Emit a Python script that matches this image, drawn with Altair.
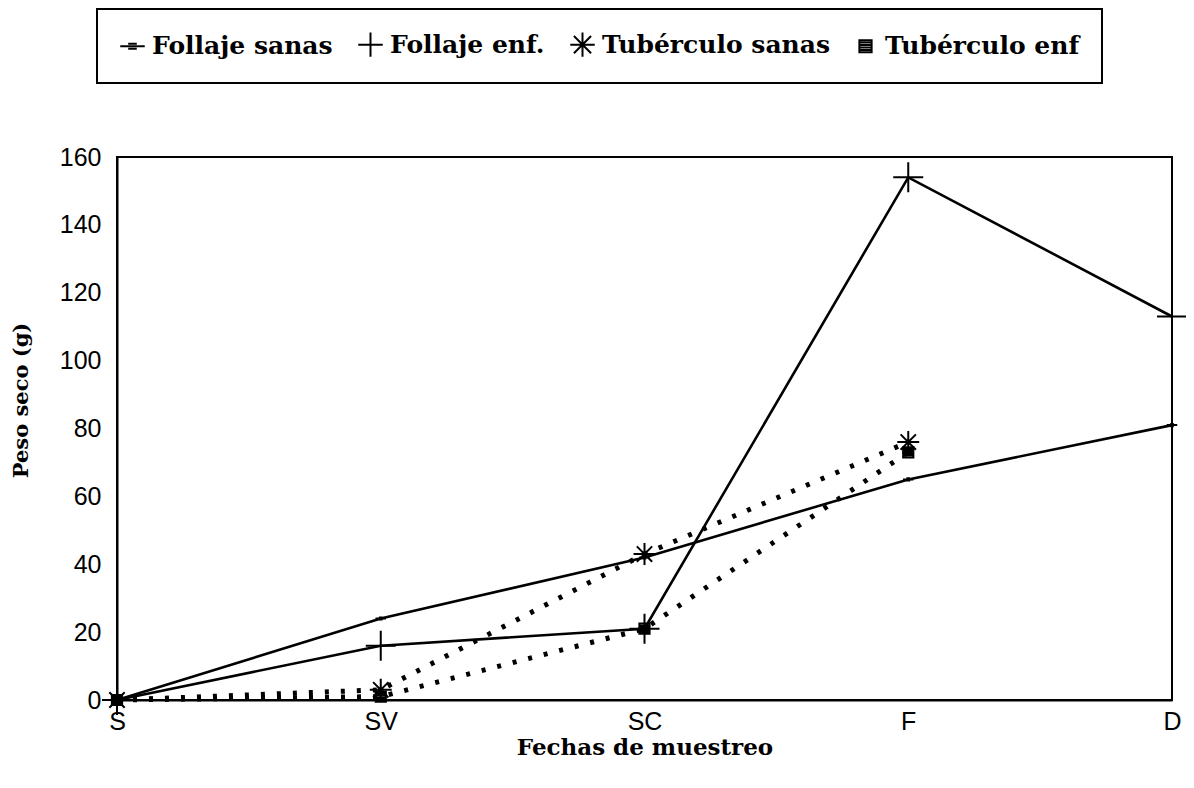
import altair as alt
import pandas as pd

fechas = ["S", "SV", "SC", "F", "D"]
series = ["Follaje sanas", "Follaje enf.", "Tubérculo sanas", "Tubérculo enf"]
follaje_sanas = [0, 24, 42, 65, 81]
follaje_enf = [0, 16, 21, 154, 113]
tuberculo_sanas = [0, 3, 43, 76]
tuberculo_enf = [0, 1, 21, 73]
y_ticks = [0, 20, 40, 60, 80, 100, 120, 140, 160]

rows = []
for name, vals in zip(series, [follaje_sanas, follaje_enf, tuberculo_sanas, tuberculo_enf]):
    for f, v in zip(fechas, vals):
        rows.append({"serie": name, "fecha": f, "valor": v})
df = pd.DataFrame(rows)

# marker styles (stroked paths)
dash_dot = "M-1,0L1,0M-0.35,-0.2L0.35,-0.2M-0.35,0.2L0.35,0.2"
plus = "M-1,0L1,0M0,-1L0,1"
aster = "M-1,0L1,0M0,-1L0,1M-0.7,-0.7L0.7,0.7M-0.7,0.7L0.7,-0.7"
sq = ("M-0.5,-0.5L0.5,-0.5L0.5,0.5L-0.5,0.5Z"
      "M-0.5,-0.3L0.5,-0.3M-0.5,-0.1L0.5,-0.1M-0.5,0.1L0.5,0.1M-0.5,0.3L0.5,0.3")
size_expr = ("datum.serie == 'Follaje sanas' ? 110 : datum.serie == 'Follaje enf.' ? 900 : "
             "datum.serie == 'Tubérculo sanas' ? 480 : 420")

serif = "DejaVu Serif"
sans = "Liberation Sans"

x_enc = alt.X(
    "fecha:N", sort=fechas,
    scale=alt.Scale(type="point", padding=0),
    axis=alt.Axis(
        title="Fechas de muestreo", labelAngle=0, ticks=False,
        labelFont=sans, labelFontSize=25, labelColor="black", labelPadding=9,
        domainColor="black", domainWidth=2,
        titleFont=serif, titleFontWeight="bold", titleFontSize=23, titleColor="black",
        titleBaseline="middle", titleY=47,
    ),
)
y_enc = alt.Y(
    "valor:Q",
    scale=alt.Scale(domain=[0, 160], nice=False),
    axis=alt.Axis(
        title="Peso seco (g)", values=y_ticks, ticks=False, grid=False,
        labelFont=sans, labelFontSize=25, labelColor="black", labelPadding=16,
        domainColor="black", domainWidth=2,
        titleFont=serif, titleFontWeight="bold", titleFontSize=21, titleColor="black",
        titleAngle=270, titleBaseline="middle", titleAlign="center",
        titleX=-96, titleY=243,
    ),
)

base = alt.Chart(df)

solid = base.transform_filter(
    alt.FieldOneOfPredicate(field="serie", oneOf=series[:2])
).mark_line(color="black", strokeWidth=2.6, strokeCap="round").encode(
    x=x_enc, y=y_enc, detail="serie:N"
)

dotted = base.transform_filter(
    alt.FieldOneOfPredicate(field="serie", oneOf=series[2:])
).mark_line(color="black", strokeWidth=5, strokeDash=[4, 12]).encode(
    x=x_enc, y=y_enc, detail="serie:N"
)

points = base.transform_calculate(sz=size_expr).mark_point(
    filled=False, color="black", strokeWidth=2, opacity=1
).encode(
    x=x_enc, y=y_enc,
    shape=alt.Shape(
        "serie:N",
        scale=alt.Scale(domain=series, range=[dash_dot, plus, aster, sq]),
        legend=alt.Legend(
            title=None, orient="none", legendX=-20, legendY=-148,
            direction="horizontal", columns=4,
            labelFont=serif, labelFontWeight="bold", labelFontSize=25,
            labelColor="black", labelLimit=0, labelOffset=6,
            symbolSize=600, symbolStrokeWidth=2, symbolStrokeColor="black",
            columnPadding=21, padding=22,
            strokeColor="black",
        ),
    ),
    size=alt.Size("sz:Q", scale=None),
)

chart = alt.layer(solid, dotted, points).properties(
    width=1055, height=543,
    padding={"left": 109, "top": 149, "right": 14, "bottom": 80},
    autosize=alt.AutoSizeParams(type="none"),
).configure_view(
    stroke="black", strokeWidth=2
).configure_legend(
    strokeWidth=2
)

chart.save("out.html", embed_options={"renderer": "svg", "actions": False})
